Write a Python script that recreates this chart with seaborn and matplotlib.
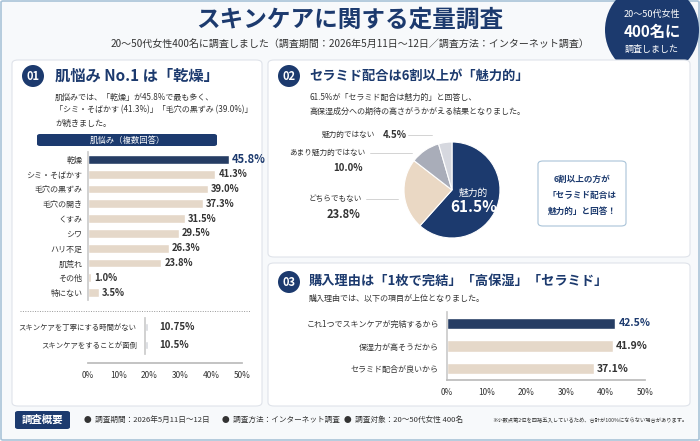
import matplotlib
matplotlib.use("Agg")
import matplotlib.pyplot as plt
import seaborn as sns
import pandas as pd
from matplotlib.patches import FancyBboxPatch, Circle

sns.set_theme(style="white")
plt.rcParams['font.family'] = ['Noto Sans CJK JP', 'DejaVu Sans']

NAVY = "#1c3a6e"
BEIGE = "#ead8c4"
GRAY = "#a9adb9"
LIGHT = "#d6d8df"

worry_labels = ["乾燥", "シミ・そばかす", "毛穴の黒ずみ", "毛穴の開き", "くすみ", "シワ", "ハリ不足", "肌荒れ", "その他", "特にない"]
worry_values = [45.8, 41.3, 39.0, 37.3, 31.5, 29.5, 26.3, 23.8, 1.0, 3.5]
extra_labels = ["スキンケアを丁寧にする時間がない", "スキンケアをすることが面倒"]
extra_values = [10.75, 10.5]
pie_labels = ["魅力的", "どちらでもない", "あまり魅力的ではない", "魅力的ではない"]
pie_values = [61.5, 23.8, 10.0, 4.5]
reason_labels = ["これ1つでスキンケアが完結するから", "保湿力が高そうだから", "セラミド配合が良いから"]
reason_values = [42.5, 41.9, 37.1]
ticks = [0, 10, 20, 30, 40, 50]

W, H = 700, 441
fig = plt.figure(figsize=(7, 4.41), dpi=100)
fig.patch.set_facecolor("white")

def ax_px(x0, y0, x1, y1):
    ax = fig.add_axes([x0 / W, 1 - y1 / H, (x1 - x0) / W, (y1 - y0) / H])
    ax.set_zorder(5)
    ax.set_facecolor("none")
    return ax

def txt(x, y, s, **kw):
    kw.setdefault("color", "#333333")
    kw.setdefault("va", "center")
    fig.text(x / W, 1 - y / H, s, **kw)

def box(x0, y0, x1, y1, fc="white", ec="#dfe3ea", r=6, lw=0.8):
    fig.patches.append(FancyBboxPatch((x0 / W, 1 - y1 / H), (x1 - x0) / W, (y1 - y0) / H,
                                      boxstyle=f"round,pad=0,rounding_size={r / W}",
                                      transform=fig.transFigure, fc=fc, ec=ec, lw=lw))

def disc(x, y, r, color):
    fig.patches.append(Circle((x / 100, (H - y) / 100), r / 100, transform=fig.dpi_scale_trans,
                              fc=color, ec="none"))

# frame and header
box(1, 1, 699, 440, fc="#f7f9fb", ec="#a9c3d8", r=2, lw=1.2)
txt(350, 20, "スキンケアに関する定量調査", ha="center", fontsize=17, fontweight="bold", color=NAVY)
txt(350, 44, "20～50代女性400名に調査しました（調査期間：2026年5月11日～12日／調査方法：インターネット調査）", ha="center", fontsize=7.2)
disc(652, 30, 47, NAVY)
txt(652, 14, "20～50代女性", ha="center", fontsize=6.5, color="white")
txt(652, 32, "400名に", ha="center", fontsize=11, fontweight="bold", color="white")
txt(652, 49, "調査しました", ha="center", fontsize=6.5, color="white")

# panels
box(12, 60, 262, 406)
box(268, 60, 690, 257)
box(268, 263, 690, 406)

def badge(x, y, n):
    disc(x, y, 11, NAVY)
    txt(x, y, n, ha="center", fontsize=8, fontweight="bold", color="white")

badge(33, 76, "01")
txt(55, 76, "肌悩み No.1 は「乾燥」", fontsize=11, fontweight="bold", color=NAVY)
txt(55, 97, "肌悩みでは、「乾燥」が45.8%で最も多く、", fontsize=5.8)
txt(55, 110, "「シミ・そばかす (41.3%)」「毛穴の黒ずみ (39.0%)」", fontsize=5.8)
txt(55, 123, "が続きました。", fontsize=5.8)
box(37, 134, 217, 146, fc=NAVY, ec="none", r=3)
txt(127, 140, "肌悩み（複数回答）", ha="center", fontsize=6, color="white")

badge(289, 76, "02")
txt(309, 76, "セラミド配合は6割以上が「魅力的」", fontsize=9.5, fontweight="bold", color=NAVY)
txt(309, 97, "61.5%が「セラミド配合は魅力的」と回答し、", fontsize=5.8)
txt(309, 111, "高保湿成分への期待の高さがうかがえる結果となりました。", fontsize=5.8)

badge(289, 282, "03")
txt(309, 281, "購入理由は「1枚で完結」「高保湿」「セラミド」", fontsize=9.5, fontweight="bold", color=NAVY)
txt(309, 298, "購入理由では、以下の項目が上位となりました。", fontsize=5.8)

def style_axis(ax, labelsize=5.8, pad=4):
    ax.set_xlabel(""); ax.set_ylabel("")
    for s in ["top", "right", "bottom"]:
        ax.spines[s].set_visible(False)
    ax.spines["left"].set_color("#cccccc")
    ax.tick_params(axis="y", length=0, labelsize=labelsize, labelcolor="#333333", pad=pad)

# panel 1 main bars
ax1 = ax_px(88, 152, 242, 300)
df1 = pd.DataFrame({"label": worry_labels, "value": worry_values})
sns.barplot(data=df1, x="value", y="label", hue="label", palette=[NAVY] + [BEIGE] * 9,
            legend=False, ax=ax1, width=0.6, orient="h")
ax1.set_xlim(0, 50); ax1.set_xticks([])
style_axis(ax1)
for i, v in enumerate(worry_values):
    big = i == 0
    ax1.text(v + 1, i, f"{v}%", va="center", fontsize=8 if big else 6.8, fontweight="bold",
             color=NAVY if big else "#333333")

# panel 1 extra bars (drawn as short stubs like the reference)
ax2 = ax_px(145, 318, 242, 354)
df2 = pd.DataFrame({"label": extra_labels, "value": extra_values})
sns.barplot(data=df2, x="value", y="label", color=LIGHT, ax=ax2, width=0.45, orient="h")
ax2.set_xlim(0, 300); ax2.set_xticks([])
style_axis(ax2, labelsize=5.3, pad=6)
for i, v in enumerate(extra_values):
    ax2.text(45, i, f"{v}%", va="center", fontsize=7, fontweight="bold", color="#333333")

fig.add_artist(plt.Line2D([20 / W, 250 / W], [1 - 311 / H] * 2, transform=fig.transFigure,
                          color="#999999", lw=0.7, ls=(0, (1, 1.5)), zorder=6))

axt = ax_px(88, 362, 242, 363)
axt.set_xlim(0, 50); axt.set_yticks([]); axt.set_xticks(ticks)
axt.set_xticklabels([f"{t}%" for t in ticks], fontsize=6, color="#333333")
for s in ["top", "right", "left"]:
    axt.spines[s].set_visible(False)
axt.spines["bottom"].set_color("#bbbbbb")
axt.tick_params(axis="x", length=2, color="#bbbbbb", pad=4)

# pie
axp = ax_px(392, 130, 512, 250)
axp.pie(pie_values, colors=[NAVY, BEIGE, GRAY, LIGHT], startangle=90, counterclock=False,
        wedgeprops=dict(ec="white", lw=0.8))
axp.set_aspect("equal")
axp.text(0.45, -0.05, pie_labels[0], ha="center", va="center", fontsize=7, color="white")
axp.text(0.45, -0.35, f"{pie_values[0]}%", ha="center", va="center", fontsize=11, fontweight="bold", color="white")
txt(375, 135, pie_labels[3], ha="right", fontsize=5.5)
txt(383, 135, f"{pie_values[3]}%", fontsize=7, fontweight="bold")
txt(365, 153, pie_labels[2], ha="right", fontsize=5.5)
txt(363, 168, f"{pie_values[2]}%", ha="right", fontsize=7, fontweight="bold")
txt(362, 199, pie_labels[1], ha="right", fontsize=5.5)
txt(360, 215, f"{pie_values[1]}%", ha="right", fontsize=8, fontweight="bold")
for xa, xb, y in [(408, 432, 135), (370, 412, 153), (366, 398, 199)]:
    fig.add_artist(plt.Line2D([xa / W, xb / W], [1 - y / H] * 2, transform=fig.transFigure, color="#cccccc", lw=0.6))
box(538, 161, 626, 226, fc="white", ec="#a9c3d8", r=5, lw=0.8)
txt(582, 179, "6割以上の方が", ha="center", fontsize=6.2, fontweight="bold", color=NAVY)
txt(582, 195, "「セラミド配合は", ha="center", fontsize=6.2, fontweight="bold", color=NAVY)
txt(582, 211, "魅力的」と回答！", ha="center", fontsize=6.2, fontweight="bold", color=NAVY)

# panel 3
ax3 = ax_px(447, 312, 645, 380)
df3 = pd.DataFrame({"label": reason_labels, "value": reason_values})
sns.barplot(data=df3, x="value", y="label", hue="label", palette=[NAVY, BEIGE, BEIGE], legend=False,
            ax=ax3, width=0.5, orient="h")
ax3.set_xlim(0, 50)
style_axis(ax3, pad=6)
ax3.spines["bottom"].set_visible(True); ax3.spines["bottom"].set_color("#bbbbbb")
ax3.set_xticks(ticks); ax3.set_xticklabels([f"{t}%" for t in ticks], fontsize=6, color="#333333")
ax3.tick_params(axis="x", length=2, color="#bbbbbb", pad=4)
for i, v in enumerate(reason_values):
    ax3.text(v + 0.8, i, f"{v}%", va="center", fontsize=7.5, fontweight="bold",
             color=NAVY if i == 0 else "#333333")

# footer
box(15, 411, 70, 429, fc=NAVY, ec="none", r=3)
txt(42, 420, "調査概要", ha="center", fontsize=7.5, fontweight="bold", color="white")
txt(84, 420, "●  調査期間：2026年5月11日～12日", fontsize=5.5)
txt(222, 420, "●  調査方法：インターネット調査", fontsize=5.5)
txt(344, 420, "●  調査対象：20～50代女性 400名", fontsize=5.5)
txt(688, 420, "※小数点第2位を四捨五入しているため、合計が100%にならない場合があります。", ha="right", fontsize=3.8)

fig.savefig("out.png", dpi=100, facecolor=fig.get_facecolor())
